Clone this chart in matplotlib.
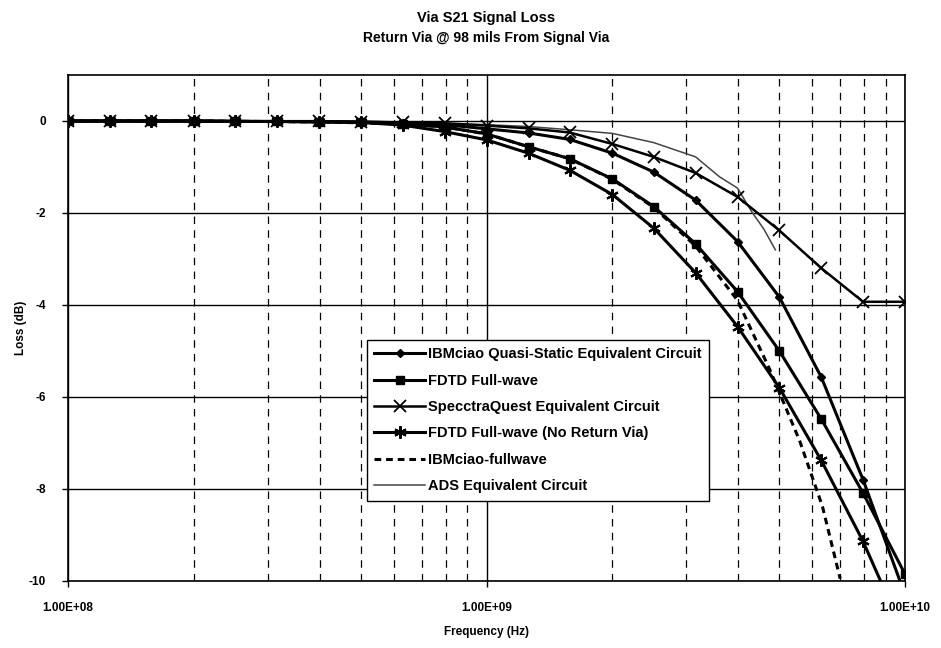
import matplotlib
matplotlib.use("Agg")
import matplotlib.pyplot as plt
from matplotlib.ticker import FixedLocator, NullFormatter

plt.rcParams['font.family'] = ['Liberation Sans', 'DejaVu Sans']
plt.rcParams['font.weight'] = 'bold'
plt.rcParams['axes.unicode_minus'] = False

# frequency grid of the marked series (Hz)
freq = [1.00e8, 1.26e8, 1.58e8, 2.00e8, 2.51e8, 3.16e8, 3.98e8, 5.01e8, 6.31e8, 7.94e8,
        1.00e9, 1.26e9, 1.58e9, 2.00e9, 2.51e9, 3.16e9, 3.98e9, 5.01e9, 6.31e9, 7.94e9,
        1.00e10]

quasi_static = [0, 0, 0, 0, -0.01, -0.01, -0.01, -0.02, -0.04, -0.08,
                -0.17, -0.26, -0.40, -0.70, -1.11, -1.72, -2.62, -3.83, -5.57, -7.80,
                -10.30]
fdtd = [0, 0, 0, 0, -0.01, -0.01, -0.02, -0.03, -0.06, -0.13,
        -0.28, -0.56, -0.82, -1.26, -1.86, -2.67, -3.71, -5.00, -6.48, -8.09,
        -9.85]
specctra = [0, 0, 0, 0, 0, -0.01, -0.01, -0.02, -0.03, -0.05,
            -0.10, -0.16, -0.25, -0.50, -0.78, -1.13, -1.65, -2.38, -3.20, -3.93,
            -3.93]
no_return = [0, 0, 0, 0, -0.01, -0.01, -0.02, -0.03, -0.09, -0.23,
             -0.41, -0.70, -1.07, -1.60, -2.33, -3.30, -4.47, -5.80, -7.38, -9.14,
             -11.20]

freq_ciao_fw = [1.00e8, 2.00e8, 3.98e8, 6.31e8, 7.94e8, 1.00e9, 1.26e9, 1.58e9, 2.00e9,
                2.51e9, 3.16e9, 3.98e9, 4.75e9, 5.60e9, 6.35e9, 7.00e9]
ciao_fw = [0, 0, -0.02, -0.06, -0.13, -0.28, -0.56, -0.82, -1.27,
           -1.88, -2.72, -3.90, -5.40, -6.95, -8.38, -9.95]

freq_ads = [1.00e8, 2.00e8, 3.98e8, 6.31e8, 7.94e8, 1.00e9, 1.26e9, 1.58e9, 2.00e9,
            2.51e9, 3.16e9, 3.60e9, 3.98e9, 4.30e9, 4.60e9, 4.90e9]
ads = [0, 0, -0.01, -0.03, -0.05, -0.08, -0.12, -0.19, -0.27,
       -0.47, -0.78, -1.21, -1.46, -1.97, -2.35, -2.80]

labels = ["IBMciao Quasi-Static Equivalent Circuit", "FDTD Full-wave",
          "SpecctraQuest Equivalent Circuit", "FDTD Full-wave (No Return Via)",
          "IBMciao-fullwave", "ADS Equivalent Circuit"]

fig = plt.figure(figsize=(9.41, 6.48), dpi=100)
ax = fig.add_axes([68/941, 1-581/648, (905-68)/941, (581-75)/648])

ax.plot(freq, quasi_static, color='k', lw=2.2, marker='D', ms=4.5, label=labels[0], zorder=5)
ax.plot(freq, fdtd, color='k', lw=2.2, marker='s', ms=5.5, label=labels[1], zorder=5)
ax.plot(freq, specctra, color='k', lw=1.8, marker='x', ms=8, mew=1.3, label=labels[2], zorder=5)
ax.plot(freq, no_return, color='k', lw=2.2, marker=(6, 2, 0), ms=9, mew=1.5, label=labels[3], zorder=5)
ax.plot(freq_ciao_fw, ciao_fw, color='k', lw=2.2, ls=(0, (2.2, 1.6)), label=labels[4], zorder=4)
ax.plot(freq_ads, ads, color='#444444', lw=1.1, label=labels[5], zorder=4)

ax.set_xscale('log')
ax.set_xlim(1e8, 1e10)
ax.set_ylim(-10, 1)
ax.set_yticks([0, -2, -4, -6, -8, -10])
ax.set_xticks([1e8, 1e9, 1e10])
ax.set_xticklabels(["1.00E+08", "1.00E+09", "1.00E+10"])
ax.xaxis.set_minor_locator(FixedLocator([m * d for d in (1e8, 1e9) for m in range(2, 10)]))
ax.xaxis.set_minor_formatter(NullFormatter())
ax.tick_params(axis='both', which='major', labelsize=8.5, length=4, width=1, direction='out')
ax.tick_params(axis='y', which='major', pad=12)
ax.tick_params(axis='x', which='major', pad=11)
ax.tick_params(axis='x', which='minor', length=0)
for lab in ax.get_xticklabels() + ax.get_yticklabels():
    lab.set_fontweight('bold')

ax.grid(True, axis='y', which='major', color='k', lw=1)
ax.grid(True, axis='x', which='major', color='k', lw=1)
ax.grid(True, axis='x', which='minor', color='k', lw=0.9, ls=(0, (6, 5)))
ax.set_axisbelow(True)
for s in ax.spines.values():
    s.set_linewidth(1.2)

ax.set_xlabel("Frequency (Hz)", fontsize=8.5, fontweight='bold', labelpad=9)
ax.set_ylabel("Loss (dB)", fontsize=8.5, fontweight='bold', labelpad=1)

fig.text(486/941, 1-18/648, "Via S21 Signal Loss", ha='center', va='center',
         fontsize=10.5, fontweight='bold')
fig.text(486/941, 1-38/648, "Return Via @ 98 mils From Signal Via", ha='center', va='center',
         fontsize=10, fontweight='bold')

leg = ax.legend(loc='upper left', bbox_to_anchor=(367/941, 1-340/648), bbox_transform=fig.transFigure,
                frameon=True, fancybox=False, edgecolor='k', framealpha=1, fontsize=10.5,
                handlelength=3.5, handletextpad=0.2, labelspacing=0.85, borderpad=0.5,
                borderaxespad=0)
leg.get_frame().set_linewidth(1)
for t in leg.get_texts():
    t.set_fontweight('bold')

fig.savefig("out.png", dpi=100, facecolor='white')
